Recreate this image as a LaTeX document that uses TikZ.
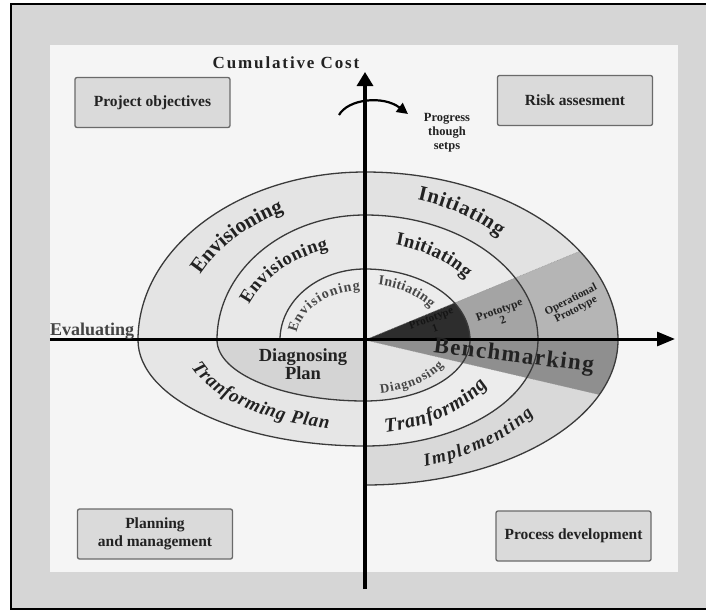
\documentclass[tikz,border=0pt]{standalone}
\usepackage{fontspec}
\setmainfont{Liberation Serif}
\usetikzlibrary{arrows.meta,decorations.text}

\definecolor{framegray}{HTML}{D6D6D6}
\definecolor{panel}{HTML}{F5F5F5}
\definecolor{boxfill}{HTML}{DADADA}
\definecolor{boxline}{HTML}{6A6A6A}
\definecolor{ink}{HTML}{222222}
\definecolor{softink}{HTML}{464646}
\definecolor{evalgray}{HTML}{444444}
\definecolor{arcline}{HTML}{3A3A3A}
\definecolor{protoink}{HTML}{151515}
% spiral fills
\definecolor{ulOuter}{HTML}{E4E4E4}
\definecolor{ulMid}{HTML}{E8E8E8}
\definecolor{ulIn}{HTML}{EBEBEB}
\definecolor{llOuter}{HTML}{E6E6E6}
\definecolor{llIn}{HTML}{D4D4D4}
\definecolor{urOuter}{HTML}{E2E2E2}
\definecolor{urMid}{HTML}{EAEAEA}
\definecolor{urIn}{HTML}{ECECEC}
\definecolor{lrOuter}{HTML}{D9D9D9}
\definecolor{lrMid}{HTML}{ECECEC}
\definecolor{lrIn}{HTML}{E4E4E4}
\definecolor{protoOuter}{HTML}{B5B5B5}
\definecolor{protoMid}{HTML}{A4A4A4}
\definecolor{protoIn}{HTML}{2D2D2D}
\definecolor{bench}{HTML}{8F8F8F}

\newcommand\fsz[1]{\fontsize{#1}{#1}\selectfont}

\begin{document}
\begin{tikzpicture}[x=1pt,y=1pt,
  infobox/.style={draw=boxline, fill=boxfill, line width=1.3pt, rounded corners=2pt,
    minimum width=155pt, minimum height=50pt, inner sep=0pt,
    font=\fontsize{15.5}{18}\selectfont\bfseries, text=ink, align=center},
  spiral/.style={draw=arcline, line width=1.3pt},
  cut/.style={draw=gray!80, line width=0.6pt, densely dotted},
  axisline/.style={line width=3.3pt, black},
  curvetext/.style={decorate, decoration={text along path, text align={fit to path},
    text color=ink, text={#1}}},
  softcurve/.style={decorate, decoration={text along path, text align={fit to path},
    text color=softink, text={#1}}},
  plain/.style={inner sep=0pt, text=ink}
]
\useasboundingbox (-365,-271) rectangle (341,340);

% page, frame and inner panel
\fill[white] (-365,-271) rectangle (341,340);
\fill[framegray] (-354,-269) rectangle (360,336);
\draw[black, line width=2.6pt] (-354,-269) rectangle (360,336);
\fill[panel] (-315,-232) rectangle (313,295);

% corner boxes
\node[infobox] (objectives) at (-212.5,237.5) {Project objectives};
\node[infobox] (risk) at (210,239.5) {Risk assesment};
\node[infobox] (planning) at (-210,-194) {Planning\\and management};
\node[infobox] (process) at (208.5,-196) {Process development};

% quarter-ellipse fills of the spiral
% upper left
\fill[ulOuter] (0,0) -- (-227,0) arc (180:90:227 and 168) -- cycle;
\fill[ulMid]   (0,0) -- (-148,0) arc (180:90:148 and 125) -- cycle;
\fill[ulIn]    (0,0) -- (-85,0) arc (180:90:85 and 71) -- cycle;
% lower left
\fill[llOuter] (0,0) -- (-227,0) arc (180:270:227 and 106) -- cycle;
\fill[llIn]    (0,0) -- (-148,0) arc (180:270:148 and 61) -- cycle;
% upper right
\fill[urOuter] (0,0) -- (253,0) arc (0:90:253 and 168) -- cycle;
\fill[urMid]   (0,0) -- (173,0) arc (0:90:173 and 125) -- cycle;
\fill[urIn]    (0,0) -- (105,0) arc (0:90:105 and 71) -- cycle;
% lower right
\fill[lrOuter] (0,0) -- (253,0) arc (0:-90:253 and 145) -- cycle;
\fill[lrMid]   (0,0) -- (173,0) arc (0:-90:173 and 106) -- cycle;
\fill[lrIn]    (0,0) -- (105,0) arc (0:-90:105 and 61) -- cycle;

% prototype wedge
\begin{scope}
  \clip (0,0) -- (300,124) -- (300,0) -- cycle;
  \fill[protoOuter] (0,0) -- (253,0) arc (0:90:253 and 168) -- cycle;
  \fill[protoMid]   (0,0) -- (173,0) arc (0:90:173 and 125) -- cycle;
  \fill[protoIn]    (0,0) -- (105,0) arc (0:90:105 and 71) -- cycle;
\end{scope}
% benchmarking wedge
\begin{scope}
  \clip (0,0) -- (300,0) -- (300,-70) -- cycle;
  \fill[bench] (0,0) -- (253,0) arc (0:-90:253 and 145) -- cycle;
\end{scope}

% wedge borders
\coordinate (hub) at (0,0);
\coordinate (protoEdge) at (31.9:253 and 168);
\coordinate (benchEdge) at (-22.1:253 and 145);
\draw[cut] (hub) -- (protoEdge);
\draw[cut] (hub) -- (benchEdge);

% the spiral itself
\draw[spiral] (-85,0) arc (180:90:85 and 71) arc (90:0:105 and 71)
  arc (0:-90:105 and 61) arc (270:180:148 and 61)
  arc (180:90:148 and 125) arc (90:0:173 and 125)
  arc (0:-90:173 and 106) arc (270:180:227 and 106)
  arc (180:90:227 and 168) arc (90:0:253 and 168)
  arc (0:-90:253 and 145);

% axes
\coordinate (vbot) at (0,-249);
\coordinate (vtop) at (0,268);
\coordinate (hleft) at (-315,1);
\coordinate (hright) at (310,1);
\draw[axisline, -{Triangle[length=14pt,width=16pt]}] (vbot) -- (vtop);
\draw[axisline, line width=3pt, -{Triangle[length=18pt,width=14pt]}] (hleft) -- (hright);

% progress arrow
\coordinate (turnStart) at (-26,225);
\coordinate (turnEnd) at (43,226);
\draw[line width=2.2pt, -{Triangle[length=11pt,width=11pt]}]
  (turnStart) .. controls (-17,241) and (18,245) .. (turnEnd);

% axis labels
\node[plain, font=\fsz{17}\bfseries\addfontfeature{LetterSpace=11}, anchor=base]
  (costlabel) at (-79,272) {Cumulative Cost};
\node[plain, text=evalgray, font=\fsz{18}\bfseries, anchor=base west]
  (evaluating) at (-315,5) {Evaluating};
\node[plain, font=\fontsize{12.5}{14}\selectfont\bfseries, align=center]
  (progress) at (82,207) {Progress\\though\\setps};

% curved phase labels, upper half
\path[curvetext={|\fsz{21}\bfseries|Envisioning}] (153:185 and 143) arc (153:116:185 and 143);
\path[curvetext={|\fsz{18.5}\bfseries|Envisioning}] (158:125 and 95) arc (158:107:125 and 95);
\path[softcurve={|\fsz{14}\bfseries|Envisioning}] (172:69 and 50) arc (172:94:69 and 50);
\path[curvetext={|\fsz{21}\bfseries|Initiating}] (74:190 and 146) arc (74:45:190 and 146);
\path[curvetext={|\fsz{19}\bfseries|Initiating}] (76.5:130 and 98) arc (76.5:39:130 and 98);
\path[softcurve={|\fsz{14}\bfseries|Initiating}] (80.5:80 and 56) arc (80.5:35:80 and 56);

% curved phase labels, lower half
\path[softcurve={|\fsz{13}\bfseries|Diagnosing}] (-80:90 and 54) arc (-80:-29:90 and 54);
\path[curvetext={|\fsz{20}\bfseries\itshape|Tranforming}] (-81.7:140 and 93) arc (-81.7:-29:140 and 93);
\path[curvetext={|\fsz{18}\bfseries\itshape|Implementing}] (-73:205 and 132) arc (-73:-34.5:205 and 132);
\path[curvetext={|\fsz{19}\bfseries\itshape|Tranforming Plan}] (197.5:182 and 90) arc (197.5:258.5:182 and 90);
\coordinate (benchStart) at (68,-12);
\coordinate (benchStop) at (228,-32);
\path[curvetext={|\fsz{23}\bfseries|Benchmarking}] (benchStart) -- (benchStop);

% straight labels inside the spiral
\node[plain, font=\fontsize{18.5}{16.5}\selectfont\bfseries, align=center]
  (diagplan) at (-62,-24) {Diagnosing\\Plan};
\node[plain, text=protoink, font=\fontsize{11}{11}\selectfont\bfseries, align=center, rotate=20]
  (proto1) at (68,17) {Prototype\\1};
\node[plain, font=\fontsize{11.5}{11}\selectfont\bfseries, align=center, rotate=20]
  (proto2) at (136,25) {Prototype\\2};
\node[plain, font=\fontsize{11}{11}\selectfont\bfseries, align=center, rotate=27]
  (operational) at (208.5,35) {Operational\\Prototype};
\end{tikzpicture}
\end{document}
